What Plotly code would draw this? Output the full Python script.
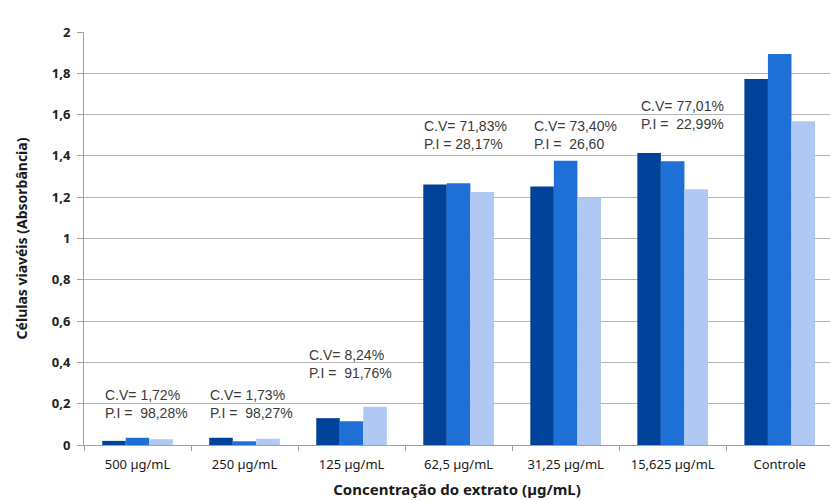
import plotly.graph_objects as go

categories = ["500 µg/mL", "250 µg/mL", "125 µg/mL", "62,5 µg/mL", "31,25 µg/mL", "15,625 µg/mL", "Controle"]
serie1 = [0.020, 0.035, 0.130, 1.262, 1.252, 1.414, 1.772]
serie2 = [0.035, 0.018, 0.115, 1.268, 1.377, 1.374, 1.893]
serie3 = [0.028, 0.030, 0.185, 1.225, 1.200, 1.239, 1.568]
cv_labels = ["C.V= 1,72%", "C.V= 1,73%", "C.V= 8,24%", "C.V= 71,83%", "C.V= 73,40%", "C.V= 77,01%", "C.V= 100%"]
pi_labels = ["P.I =  98,28%", "P.I =  98,27%", "P.I =  91,76%", "P.I = 28,17%", "P.I =  26,60", "P.I =  22,99%", ""]
label_y = [0.20, 0.20, 0.39, 1.50, 1.50, 1.60, 2.045]
label_dx = [-0.325, -0.34, -0.415, -0.344, -0.31, -0.31, -0.35]

colors = ["#00419A", "#1E6FD6", "#AFC9F4"]

fig = go.Figure()
for vals, c in zip([serie1, serie2, serie3], colors):
    fig.add_trace(go.Bar(x=categories, y=vals, marker=dict(color=c, line=dict(width=0))))

for i, (cv, pi) in enumerate(zip(cv_labels, pi_labels)):
    txt = cv.replace(" ", "\u00a0")
    if pi:
        txt += "<br>" + pi.replace(" ", "\u00a0")
    fig.add_annotation(x=i + label_dx[i], y=label_y[i], xref="x", yref="y", text=txt,
                       showarrow=False, xanchor="left", yanchor="middle", align="left",
                       font=dict(family="Liberation Sans, Arial", size=14, color="#3a3a3a"))

fig.update_layout(
    width=830, height=500,
    margin=dict(l=84, r=0, t=32, b=55),
    paper_bgcolor="white", plot_bgcolor="white",
    barmode="group", bargap=0.34, bargroupgap=0,
    showlegend=False,
    xaxis=dict(
        type="category",
        range=[-0.5, 6.47],
        showline=True, linecolor="#a0a0a0", linewidth=1,
        ticks="outside", ticklen=5, tickcolor="#a0a0a0", tickson="boundaries",
        ticklabelstandoff=7,
        tickfont=dict(family="Noto Sans", size=13, color="#1a1a1a"),
        title=dict(text="<b>Concentração do extrato (µg/mL)</b>", standoff=12,
                   font=dict(family="Noto Sans", size=15, color="#1a1a1a")),
        showgrid=False,
    ),
    yaxis=dict(
        range=[0, 2], tickvals=[0, 0.2, 0.4, 0.6, 0.8, 1, 1.2, 1.4, 1.6, 1.8, 2],
        ticktext=["<b>0</b>", "<b>0,2</b>", "<b>0,4</b>", "<b>0,6</b>", "<b>0,8</b>", "<b>1</b>",
                  "<b>1,2</b>", "<b>1,4</b>", "<b>1,6</b>", "<b>1,8</b>", "<b>2</b>"],
        showgrid=True, gridcolor="#b4b4b4", gridwidth=1,
        showline=True, linecolor="#a0a0a0", linewidth=1,
        ticks="outside", ticklen=6, tickcolor="#a0a0a0",
        ticklabelstandoff=4,
        tickfont=dict(family="Noto Sans", size=13, color="#222222"),
        title=dict(text="<b>Células viavéis (Absorbância)</b>", standoff=20,
                   font=dict(family="Noto Sans", size=14, color="#1a1a1a")),
        zeroline=False,
    ),
)
fig.write_html("out.html")
